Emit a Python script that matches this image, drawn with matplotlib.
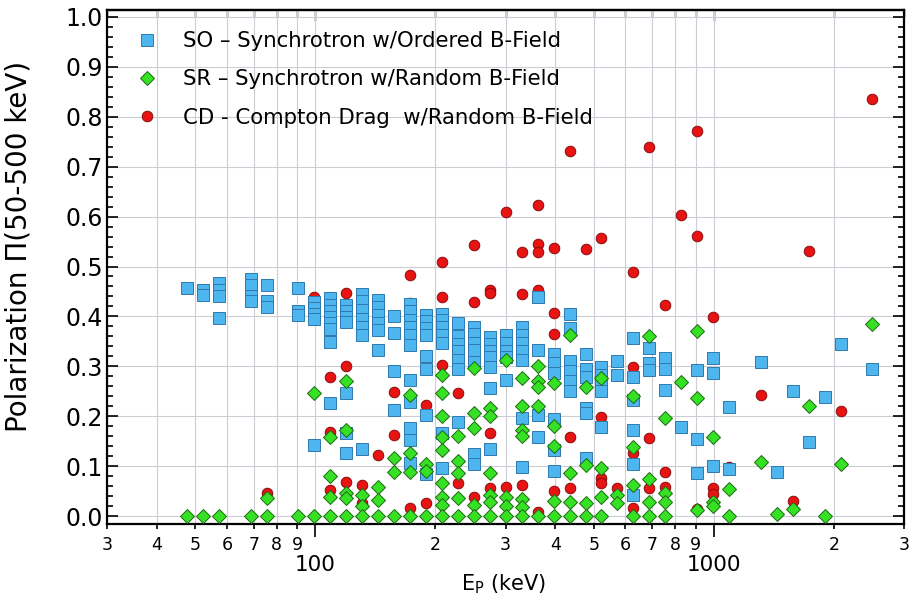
import matplotlib
matplotlib.use("Agg")
import matplotlib.pyplot as plt
from matplotlib.ticker import LogLocator, FuncFormatter, MultipleLocator, NullFormatter
import numpy as np

# SO - synchrotron, ordered field (peak energy keV, polarization)
so_ep = [47.6,
         52.2, 52.2,
         57.2, 57.2, 57.2, 57.2,
         68.8, 68.8, 68.8, 68.8,
         75.5, 75.5, 75.5,
         90.7, 90.7, 90.7,
         99.5, 99.5, 99.5, 99.5, 99.5,
         109.1, 109.1, 109.1, 109.1, 109.1, 109.1, 109.1, 109.1,
         119.6, 119.6, 119.6, 119.6, 119.6, 119.6, 119.6,
         131.2, 131.2, 131.2, 131.2, 131.2, 131.2, 131.2,
         143.8, 143.8, 143.8, 143.8, 143.8, 143.8,
         157.7, 157.7, 157.7, 157.7,
         172.9, 172.9, 172.9, 172.9, 172.9, 172.9, 172.9, 172.9, 172.9, 172.9, 172.9,
         189.6, 189.6, 189.6, 189.6, 189.6, 189.6, 189.6, 189.6,
         207.9, 207.9, 207.9, 207.9, 207.9, 207.9, 207.9,
         228.0, 228.0, 228.0, 228.0, 228.0, 228.0, 228.0,
         250.0, 250.0, 250.0, 250.0, 250.0, 250.0, 250.0,
         274.1, 274.1, 274.1, 274.1, 274.1, 274.1, 274.1,
         300.5, 300.5, 300.5, 300.5, 300.5,
         329.5, 329.5, 329.5, 329.5, 329.5, 329.5, 329.5,
         361.3, 361.3, 361.3, 361.3,
         396.2, 396.2, 396.2, 396.2, 396.2, 396.2,
         434.4, 434.4, 434.4, 434.4, 434.4, 434.4,
         476.3, 476.3, 476.3, 476.3, 476.3, 476.3,
         522.3, 522.3, 522.3, 522.3, 522.3,
         572.7, 572.7,
         627.9, 627.9, 627.9, 627.9, 627.9, 627.9,
         688.5, 688.5, 688.5,
         754.9, 754.9, 754.9,
         827.7,
         907.6, 907.6, 907.6,
         995.2, 995.2, 995.2,
         1091, 1091,
         1312, 1438, 1577, 1729, 1896, 2079, 2500]
so_pol = [0.456,
          0.452, 0.442,
          0.466, 0.453, 0.441, 0.397,
          0.474, 0.462, 0.440, 0.430,
          0.462, 0.430, 0.418,
          0.457, 0.410, 0.402,
          0.428, 0.416, 0.404, 0.395, 0.142,
          0.436, 0.423, 0.410, 0.398, 0.386, 0.374, 0.349, 0.226,
          0.422, 0.410, 0.398, 0.388, 0.247, 0.166, 0.127,
          0.445, 0.430, 0.412, 0.395, 0.378, 0.362, 0.135,
          0.433, 0.418, 0.402, 0.386, 0.372, 0.332,
          0.400, 0.367, 0.290, 0.212,
          0.425, 0.410, 0.393, 0.378, 0.362, 0.342, 0.273, 0.229, 0.176, 0.152, 0.106,
          0.402, 0.390, 0.376, 0.362, 0.320, 0.294, 0.202, 0.084,
          0.405, 0.392, 0.378, 0.362, 0.347, 0.166, 0.097,
          0.387, 0.360, 0.345, 0.330, 0.312, 0.295, 0.188,
          0.379, 0.365, 0.347, 0.333, 0.309, 0.124, 0.104,
          0.359, 0.345, 0.331, 0.318, 0.298, 0.256, 0.135,
          0.362, 0.346, 0.331, 0.318, 0.273,
          0.378, 0.362, 0.346, 0.330, 0.312, 0.197, 0.098,
          0.438, 0.332, 0.202, 0.158,
          0.325, 0.306, 0.286, 0.194, 0.132, 0.091,
          0.405, 0.376, 0.311, 0.291, 0.271, 0.251,
          0.324, 0.294, 0.279, 0.216, 0.206, 0.116,
          0.298, 0.283, 0.266, 0.251, 0.178,
          0.311, 0.283,
          0.357, 0.279, 0.232, 0.172, 0.104, 0.042,
          0.336, 0.307, 0.293,
          0.317, 0.295, 0.252,
          0.178,
          0.293, 0.154, 0.087,
          0.316, 0.287, 0.100,
          0.218, 0.094,
          0.308, 0.088, 0.250, 0.148, 0.238, 0.345, 0.294]

# SR - synchrotron, random field
sr_ep = [47.6, 52.2, 57.2, 68.8,
         75.5, 75.5,
         90.7,
         99.5, 99.5,
         109.1, 109.1, 109.1, 109.1,
         119.6, 119.6, 119.6, 119.6, 119.6,
         131.2, 131.2, 131.2,
         143.8, 143.8, 143.8,
         157.7, 157.7, 157.7,
         172.9, 172.9, 172.9, 172.9,
         189.6, 189.6, 189.6,
         207.9, 207.9, 207.9, 207.9, 207.9, 207.9, 207.9, 207.9, 207.9,
         228.0, 228.0, 228.0, 228.0, 228.0,
         250.0, 250.0, 250.0, 250.0, 250.0,
         274.1, 274.1, 274.1, 274.1, 274.1, 274.1,
         300.5, 300.5, 300.5, 300.5,
         329.5, 329.5, 329.5, 329.5, 329.5, 329.5, 329.5,
         361.3, 361.3, 361.3, 361.3, 361.3,
         396.2, 396.2, 396.2, 396.2, 396.2,
         434.4, 434.4, 434.4, 434.4,
         476.3, 476.3, 476.3, 476.3,
         522.3, 522.3, 522.3, 522.3,
         572.7, 572.7,
         627.9, 627.9, 627.9, 627.9,
         688.5, 688.5, 688.5, 688.5,
         754.9, 754.9, 754.9, 754.9,
         827.7,
         907.6, 907.6, 907.6,
         995.2, 995.2, 995.2,
         1091, 1091,
         1312, 1438, 1577, 1729, 1896, 2079, 2500]
sr_pol = [0.0, 0.0, 0.0, 0.0,
          0.036, 0.0,
          0.0,
          0.246, 0.0,
          0.159, 0.080, 0.038, 0.0,
          0.270, 0.172, 0.046, 0.036, 0.0,
          0.042, 0.020, 0.0,
          0.058, 0.032, 0.0,
          0.117, 0.089, 0.0,
          0.242, 0.127, 0.089, 0.0,
          0.104, 0.090, 0.0,
          0.283, 0.246, 0.200, 0.159, 0.132, 0.066, 0.038, 0.022, 0.0,
          0.161, 0.110, 0.086, 0.036, 0.0,
          0.296, 0.206, 0.176, 0.022, 0.0,
          0.216, 0.200, 0.086, 0.042, 0.028, 0.0,
          0.313, 0.038, 0.020, 0.0,
          0.277, 0.221, 0.172, 0.160, 0.034, 0.018, 0.0,
          0.301, 0.271, 0.259, 0.221, 0.0,
          0.266, 0.180, 0.141, 0.030, 0.0,
          0.363, 0.086, 0.028, 0.0,
          0.259, 0.102, 0.026, 0.0,
          0.277, 0.097, 0.038, 0.0,
          0.042, 0.026,
          0.241, 0.138, 0.062, 0.0,
          0.360, 0.075, 0.028, 0.0,
          0.196, 0.046, 0.028, 0.0,
          0.269,
          0.370, 0.237, 0.013,
          0.158, 0.028, 0.020,
          0.055, 0.0,
          0.108, 0.004, 0.014, 0.220, 0.0, 0.104, 0.384]

# CD - Compton drag, random field
cd_ep = [75.5, 99.5,
         109.1, 109.1, 109.1,
         119.6, 119.6, 119.6,
         131.2, 131.2,
         143.8,
         157.7, 157.7,
         172.9, 172.9, 172.9,
         189.6, 189.6,
         207.9, 207.9, 207.9,
         228.0, 228.0,
         250.0, 250.0, 250.0,
         274.1, 274.1, 274.1, 274.1,
         300.5, 300.5,
         329.5, 329.5, 329.5,
         361.3, 361.3, 361.3, 361.3, 361.3,
         396.2, 396.2, 396.2, 396.2,
         434.4, 434.4, 434.4,
         476.3, 476.3,
         522.3, 522.3, 522.3, 522.3,
         572.7,
         627.9, 627.9, 627.9, 627.9,
         688.5, 688.5, 688.5,
         754.9, 754.9, 754.9,
         827.7,
         907.6, 907.6, 907.6,
         995.2, 995.2, 995.2,
         1091, 1312, 1577, 1729, 2079, 2500]
cd_pol = [0.046, 0.438,
          0.279, 0.168, 0.052,
          0.447, 0.300, 0.068,
          0.063, 0.026,
          0.123,
          0.248, 0.162,
          0.483, 0.427, 0.016,
          0.222, 0.027,
          0.509, 0.439, 0.302,
          0.246, 0.066,
          0.543, 0.428, 0.038,
          0.453, 0.447, 0.166, 0.056,
          0.609, 0.058,
          0.530, 0.444, 0.063,
          0.623, 0.545, 0.529, 0.453, 0.008,
          0.537, 0.407, 0.365, 0.051,
          0.731, 0.159, 0.056,
          0.535, 0.214,
          0.558, 0.198, 0.077, 0.066,
          0.057,
          0.489, 0.299, 0.126, 0.016,
          0.739, 0.156, 0.056,
          0.423, 0.089, 0.058,
          0.604,
          0.771, 0.562, 0.015,
          0.398, 0.056, 0.044,
          0.098, 0.242, 0.030, 0.532, 0.210, 0.835]

labels = ["SO \u2013 Synchrotron w/Ordered B-Field",
          "SR \u2013 Synchrotron w/Random B-Field",
          "CD - Compton Drag  w/Random B-Field"]

plt.rcParams['font.family'] = ['DejaVu Sans']

fig = plt.figure(figsize=(9.1, 5.97), dpi=100)
ax = fig.add_axes([107 / 910, 73 / 597, 797 / 910, 514 / 597])

cd, = ax.plot(cd_ep, cd_pol, 'o', ms=7.6, mfc='#e81414', mec='#8a0a0a', mew=0.7, zorder=3)
so, = ax.plot(so_ep, so_pol, 's', ms=8.4, mfc='#4db6ef', mec='#2f79ad', mew=0.7, zorder=4)
sr, = ax.plot(sr_ep, sr_pol, 'D', ms=7.6, mfc='#36e024', mec='#1d6a12', mew=0.7, zorder=5)

ax.set_xscale('log')
ax.set_xlim(30, 3000)
ax.set_ylim(-0.016, 1.014)

# y ticks both sides, inward
ax.yaxis.set_major_locator(MultipleLocator(0.1))
ax.yaxis.set_minor_locator(MultipleLocator(0.02))
ax.yaxis.set_major_formatter(FuncFormatter(lambda v, p: f"{v:.1f}"))
ax.tick_params(axis='y', which='both', direction='in', left=True, right=True, width=1.2)
ax.tick_params(axis='y', which='major', length=8, labelsize=17, pad=3)
ax.tick_params(axis='y', which='minor', length=4.5)

# x ticks: labelled minor digits, big decade labels
ax.xaxis.set_major_locator(LogLocator(base=10, subs=(1.0,)))
ax.xaxis.set_minor_locator(LogLocator(base=10, subs=np.arange(2, 10)))
ax.xaxis.set_major_formatter(FuncFormatter(lambda v, p: f"{v:.0f}"))
ax.xaxis.set_minor_formatter(FuncFormatter(
    lambda v, p: f"{v / 10 ** np.floor(np.log10(v) + 1e-9):.0f}"))
ax.tick_params(axis='x', which='both', direction='out', bottom=True, top=False, width=1.2)
ax.tick_params(axis='x', which='major', length=9.4, labelsize=15.5, pad=13)
ax.tick_params(axis='x', which='minor', length=3.8, labelsize=12.5, pad=4.5)

top = ax.secondary_xaxis('top')
top.xaxis.set_major_locator(LogLocator(base=10, subs=(1.0,)))
top.xaxis.set_minor_locator(LogLocator(base=10, subs=np.arange(2, 10)))
top.xaxis.set_major_formatter(NullFormatter())
top.xaxis.set_minor_formatter(NullFormatter())
top.tick_params(which='both', direction='in', width=1.0)
top.tick_params(which='major', length=8)
top.tick_params(which='minor', length=5)
top.spines['top'].set_linewidth(1.6)

ax.grid(True, which='major', axis='y', color='#cdcdd6', lw=0.8)
ax.grid(True, which='both', axis='x', color='#cdcdd6', lw=0.8)
ax.set_axisbelow(True)
for s in ax.spines.values():
    s.set_linewidth(1.6)

ax.set_ylabel("Polarization \u03a0(50-500 keV)", fontsize=20)
ax.yaxis.set_label_coords(-0.093, 0.54)
ax.set_xlabel(r"E$_\mathregular{P}$ (keV)", fontsize=15)
ax.xaxis.set_label_coords(0.498, -0.094)

ax.legend([so, sr, cd], labels, loc='upper left', bbox_to_anchor=(0.150, 0.948),
          bbox_transform=fig.transFigure, frameon=False, fontsize=15.3,
          borderpad=0, handlelength=1.0, handletextpad=1.2, labelspacing=0.86,
          borderaxespad=0)

fig.savefig("out.png", dpi=100)
